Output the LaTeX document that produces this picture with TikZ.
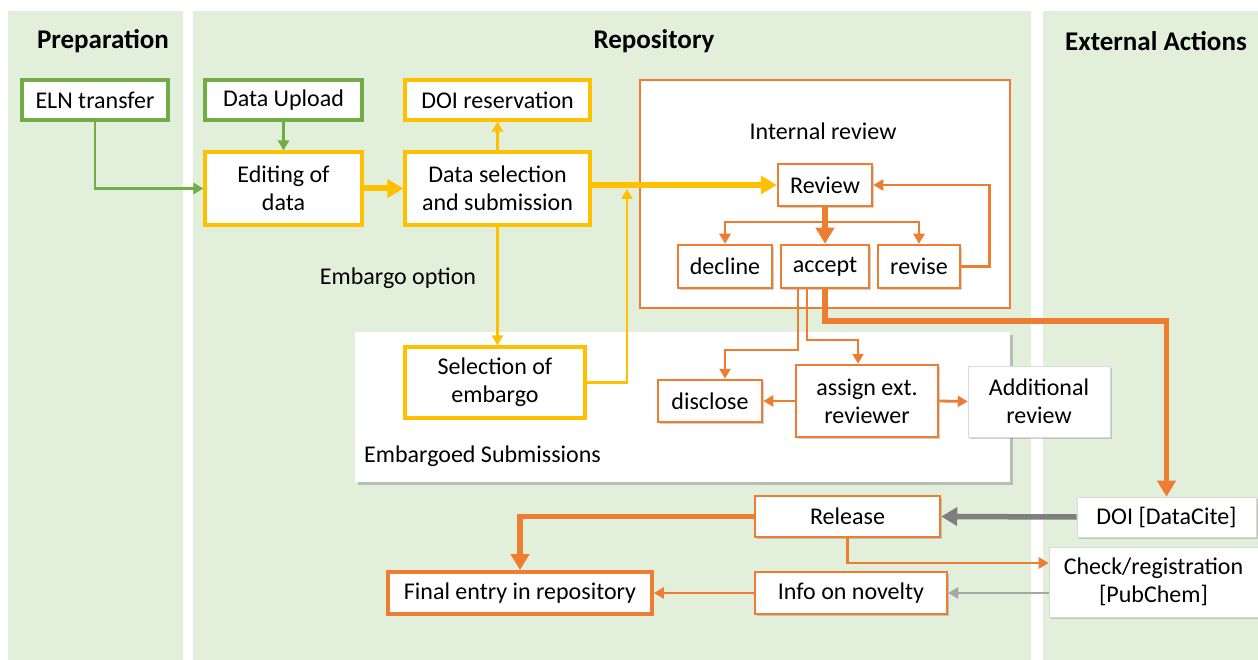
\documentclass[tikz,border=0pt]{standalone}
\usepackage{fontspec}
\setmainfont{Carlito}
\usetikzlibrary{arrows.meta,shadows}
\definecolor{bg}{HTML}{E2EFDA}
\definecolor{cgreen}{HTML}{70AD47}
\definecolor{cyellow}{HTML}{FFC000}
\definecolor{corange}{HTML}{ED7D31}
\definecolor{cgray}{HTML}{7F7F7F}
\definecolor{clgray}{HTML}{A6A6A6}
\tikzset{
  base/.style={rectangle, fill=white, inner sep=0pt, align=center,
    font=\fontsize{24}{28}\selectfont,
    drop shadow={shadow xshift=2pt, shadow yshift=-2pt, opacity=0.3, fill=black!60}},
  gbox/.style={base, draw=cgreen, line width=3.2pt},
  ybox/.style={base, draw=cyellow, line width=3.2pt},
  obox/.style={base, draw=corange, line width=2.5pt},
  wbox/.style={base, draw=black!15, line width=0.6pt},
  lbl/.style={font=\fontsize{24}{28}\selectfont, inner sep=0pt},
  hdr/.style={font=\fontsize{27}{30}\selectfont\bfseries, inner sep=0pt},
  thinarr/.style={line width=2.8pt, -{Triangle[length=10pt,width=11pt]}},
  thickarr/.style={line width=5.5pt, -{Triangle[length=16pt,width=18pt]}},
  garr/.style={thinarr, draw=cgreen},
  yarr/.style={thinarr, draw=cyellow},
  ythick/.style={thickarr, draw=cyellow, line width=6pt},
  oarr/.style={thinarr, draw=corange},
  othick/.style={thickarr, draw=corange},
  grthick/.style={thickarr, draw=cgray},
  lgarr/.style={thinarr, draw=clgray, line width=2.4pt},
}
\begin{document}
\begin{tikzpicture}[x=1pt,y=-1pt]
\useasboundingbox (0,0) rectangle (1258,660);
\fill[white] (0,0) rectangle (1258,660);
% panels
\fill[bg] (8,11) rectangle (183,660);
\fill[bg] (193,11) rectangle (1031,660);
\fill[bg] (1043,11) rectangle (1258,660);
\node[hdr] (h1) at (103,41) {Preparation};
\node[hdr] (h2) at (654,41) {Repository};
\node[hdr] (h3) at (1156,41) {External Actions};
% group boxes
\node[draw=corange, line width=1.6pt, fill=white, minimum width=370pt, minimum height=228pt, inner sep=0pt] (intbox) at (825,194) {};
\node[fill=white, minimum width=655pt, minimum height=150pt, inner sep=0pt,
  drop shadow={shadow xshift=3pt, shadow yshift=-3pt, opacity=0.35, fill=black!60}] (embbox) at (682.5,407) {};
\node[lbl] (lint) at (823,131) {Internal review};
\node[lbl] (lembopt) at (398,278) {Embargo option};
\node[lbl, anchor=west] (lembs) at (364,456) {Embargoed Submissions};
% nodes
\node[gbox, minimum width=146pt, minimum height=40pt] (eln) at (95,100) {ELN transfer};
\node[gbox, minimum width=157pt, minimum height=40pt] (upload) at (283.5,100) {Data Upload};
\node[ybox, minimum width=185pt, minimum height=40pt] (doi) at (497.5,100) {DOI reservation};
\node[ybox, minimum width=157pt, minimum height=73pt] (edit) at (283.5,188.5) {Editing of\\data};
\node[ybox, minimum width=185pt, minimum height=73pt] (dsel) at (497.5,188.5) {Data selection\\and submission};
\node[obox, minimum width=94pt, minimum height=42pt] (review) at (825,185) {Review};
\node[obox, minimum width=94pt, minimum height=43pt] (decline) at (725,266.5) {decline};
\node[obox, minimum width=88pt, minimum height=43pt] (accept) at (825,266.5) {accept};
\node[obox, minimum width=82pt, minimum height=43pt] (revise) at (919,266.5) {revise};
\node[ybox, minimum width=180pt, minimum height=71pt] (selemb) at (495,382.5) {Selection of\\embargo};
\node[obox, minimum width=104pt, minimum height=42pt] (disclose) at (710,401) {disclose};
\node[obox, minimum width=142pt, minimum height=72pt] (assign) at (867,401) {assign ext.\\reviewer};
\node[wbox, minimum width=142pt, minimum height=71pt] (addrev) at (1039,401.5) {Additional\\review};
\node[obox, minimum width=185pt, minimum height=41pt] (release) at (847.5,516.5) {Release};
\node[obox, line width=3.8pt, minimum width=264pt, minimum height=42pt] (final) at (520,593) {Final entry in repository};
\node[obox, minimum width=192pt, minimum height=42pt] (info) at (851,593) {Info on novelty};
\node[wbox, minimum width=179pt, minimum height=40pt] (doidc) at (1166.5,517) {DOI [DataCite]};
\node[wbox, minimum width=209pt, minimum height=70pt] (check) at (1153.5,582) {Check/registration\\{[PubChem]}};
% connectors
\draw[garr] (eln.south) |- (edit.west);
\draw[garr] (upload.south) -- (edit.north);
\draw[ythick] (edit.east) -- (dsel.west);
\draw[yarr] (dsel.north) -- (doi.south);
\draw[ythick] (dsel.east |- review.west) -- (review.west);
\draw[yarr] (dsel.south) -- (dsel.south |- selemb.north);
\coordinate (ymerge) at (627,189);
\draw[yarr] (selemb.east) -| (ymerge);
\coordinate (br) at (825,222);
\draw[oarr] (br) -| (decline.north);
\draw[oarr] (br) -| (revise.north);
\draw[othick] (review.south) -- (accept.north);
\draw[oarr] (revise.east) -- ++(28,0) |- (review.east);
\coordinate (a1) at (798,350);
\coordinate (a2) at (807,340);
\coordinate (a3) at (825,321);
\draw[oarr] (accept.south -| a1) -- (a1) -| ([xshift=15pt]disclose.north);
\draw[oarr] (accept.south -| a2) -- (a2) -| ([xshift=-9pt]assign.north);
\draw[othick] (accept.south) -- (a3) -| (doidc.north);
\draw[oarr] (assign.west) -- (disclose.east);
\draw[oarr] (assign.east) -- (addrev.west);
\draw[grthick] (doidc.west) -- (release.east);
\draw[othick] (release.west) -| (final.north);
\draw[oarr] (release.south) |- ([yshift=19pt]check.west);
\draw[lgarr] (info.east -| check.west) -- (info.east);
\draw[oarr] (info.west) -- (final.east);
\end{tikzpicture}
\end{document}
